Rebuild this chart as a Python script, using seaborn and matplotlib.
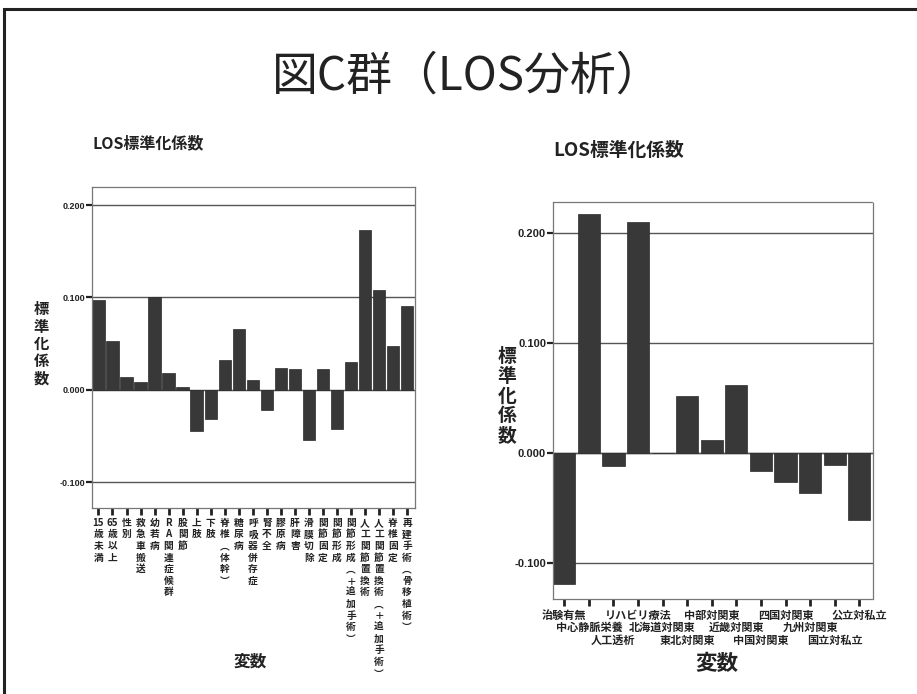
import matplotlib
matplotlib.use("Agg")
import matplotlib.pyplot as plt
import matplotlib.transforms as mtransforms
import seaborn as sns
import pandas as pd
from matplotlib.patches import Rectangle

# ---------------- data ----------------
left_vars = ["15歳未満", "65歳以上", "性別", "救急車搬送", "幼若病", "RA関連症候群",
             "股関節", "上肢", "下肢", "脊椎(体幹)", "糖尿病", "呼吸器併存症",
             "腎不全", "膠原病", "肝障害", "滑膜切除", "関節固定", "関節形成",
             "関節形成(十追加手術)", "人工関節置換術", "人工関節置換術(十追加手術)",
             "脊椎固定", "再建手術(骨移植術)"]
left_coef = [0.097, 0.053, 0.014, 0.008, 0.100, 0.018, 0.003, -0.045, -0.032,
             0.032, 0.066, 0.011, -0.022, 0.024, 0.022, -0.054, 0.022, -0.042,
             0.030, 0.173, 0.108, 0.047, 0.091]

right_vars = ["治験有無", "中心静脈栄養", "人工透析", "リハビリ療法", "北海道対関東",
              "東北対関東", "中部対関東", "近畿対関東", "中国対関東", "四国対関東",
              "九州対関東", "国立対私立", "公立対私立"]
right_coef = [-0.119, 0.217, -0.012, 0.210, 0.0, 0.052, 0.012, 0.062, -0.016,
              -0.026, -0.036, -0.011, -0.061]

yticks = [-0.100, 0.000, 0.100, 0.200]
ytick_labels = ["-0.100", "0.000", "0.100", "0.200"]
title = "図C群（LOS分析）"
subtitle = "LOS標準化係数"
ylabel = "標準化係数"
xlabel = "変数"

# ---------------- style ----------------
sns.set_theme(style="white")
plt.rcParams['font.family'] = ['Noto Sans CJK JP', 'DejaVu Sans']

BAR = "#383838"

fig = plt.figure(figsize=(9.17, 6.94), dpi=100)
fig.patch.set_facecolor("white")

# slide border
fig.patches.append(Rectangle((4 / 917, -0.05), 1.2, 1 - 9 / 694 + 0.05,
                             transform=fig.transFigure, fill=False,
                             edgecolor="#222222", linewidth=2.2))

fig.text(467 / 917, 1 - 76 / 694, title, ha="center", va="center",
         fontsize=33, color="#222222")


def vertical(s):
    s = s.replace("(", "︵").replace(")", "︶").replace("十", "＋")
    out = []
    i = 0
    while i < len(s):
        if s[i].isdigit():
            j = i
            while j < len(s) and s[i:j + 1].isdigit():
                j += 1
            out.append(s[i:j])
            i = j
        else:
            out.append(s[i])
            i += 1
    return "\n".join(out)


def style_axes(ax, tick_fs):
    for sp in ax.spines.values():
        sp.set_visible(True)
        sp.set_color("#777777")
        sp.set_linewidth(0.9)
        sp.set_linestyle((0, (1, 1)))
    ax.set_axisbelow(True)
    ax.yaxis.grid(True, color="#555555", linewidth=1.0)
    ax.xaxis.grid(False)
    ax.set_yticks(yticks)
    ax.set_yticklabels(ytick_labels, fontsize=tick_fs, fontweight="bold",
                       color="#222222", family=["Liberation Sans", "DejaVu Sans"])
    ax.tick_params(axis="y", direction="out", length=4, width=1.6,
                   color="#222222", pad=1, left=True)
    ax.tick_params(axis="x", direction="out", length=5, width=2.0,
                   color="#222222", pad=2, bottom=True)
    ax.set_xlabel("")
    ax.set_ylabel("")


# ---------------- left chart ----------------
axL = fig.add_axes([92 / 917, 1 - 508 / 694, 323 / 917, 321 / 694])
dfL = pd.DataFrame({"var": left_vars, "coef": left_coef})
sns.barplot(data=dfL, x="var", y="coef", color=BAR, width=0.88,
            saturation=1, ax=axL, edgecolor="#2a2a2a", linewidth=0.5)
axL.axhline(0, color="#555555", lw=0.8, zorder=0.5)
axL.set_xlim(-0.46, 22.56)
axL.set_ylim(-0.128, 0.2195)
style_axes(axL, 6.5)
axL.set_xticks(range(len(left_vars)))
axL.set_xticklabels([vertical(v) for v in left_vars], rotation=0,
                    fontsize=7, fontweight="bold", color="#222222",
                    va="top", ha="center", linespacing=1.2)

fig.text(92 / 917, 1 - 143 / 694, subtitle, ha="left", va="center",
         fontsize=11.5, fontweight="bold", color="#222222")
fig.text(41 / 917, 1 - 344 / 694, "\n".join(ylabel), ha="center", va="center",
         fontsize=11, fontweight="bold", color="#222222", linespacing=1.1)
fig.text(250 / 917, 1 - 662 / 694, xlabel, ha="center", va="center",
         fontsize=12, fontweight="bold", color="#222222")

# ---------------- right chart ----------------
axR = fig.add_axes([553 / 917, 1 - 599 / 694, 320 / 917, 397 / 694])
dfR = pd.DataFrame({"var": right_vars, "coef": right_coef})
sns.barplot(data=dfR, x="var", y="coef", color=BAR, width=0.9,
            saturation=1, ax=axR, edgecolor="#2a2a2a", linewidth=0.5)
axR.axhline(0, color="#555555", lw=1.0, zorder=0.5)
axR.set_xlim(-0.46, 12.56)
axR.set_ylim(-0.1327, 0.228)
style_axes(axR, 8)
axR.set_xticks(range(len(right_vars)))
axR.set_xticklabels(right_vars, rotation=0, fontsize=8, fontweight="bold",
                    color="#222222", va="top", ha="center")
# staggered rows of tick labels (3 rows)
for i, lab in enumerate(axR.get_xticklabels()):
    off = mtransforms.ScaledTranslation(0, -(i % 3) * 12.5 / 100, fig.dpi_scale_trans)
    lab.set_transform(lab.get_transform() + off)

fig.text(553 / 917, 1 - 150 / 694, subtitle, ha="left", va="center",
         fontsize=13.5, fontweight="bold", color="#222222")
fig.text(507 / 917, 1 - 396 / 694, "\n".join(ylabel), ha="center", va="center",
         fontsize=13.5, fontweight="bold", color="#222222", linespacing=1.05)
fig.text(717 / 917, 1 - 664 / 694, xlabel, ha="center", va="center",
         fontsize=15.5, fontweight="bold", color="#222222")

fig.savefig("out.png", dpi=100, facecolor="white")
